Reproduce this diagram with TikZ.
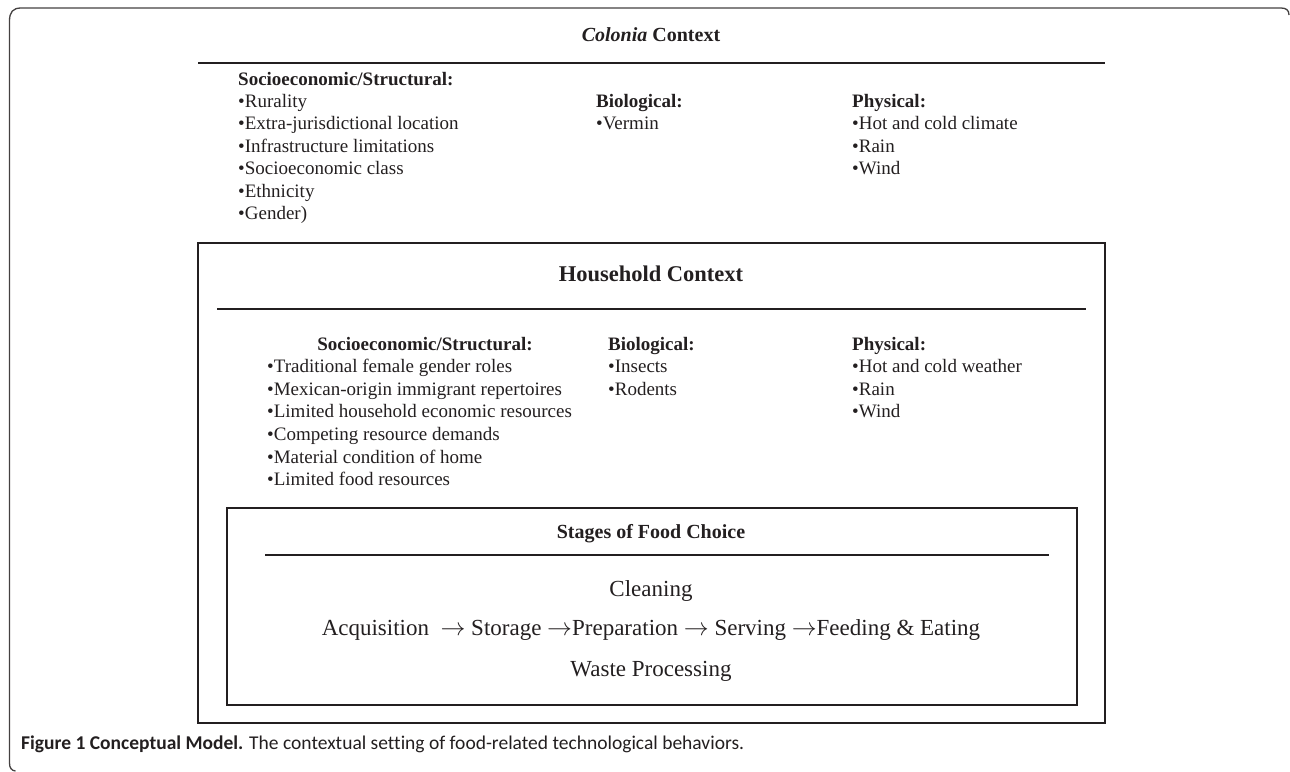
\documentclass[tikz,border=0pt]{standalone}
\usepackage{fontspec}
\setmainfont{Liberation Serif}
\newfontfamily\capfont[Ligatures=NoCommon]{Carlito}
\definecolor{ink}{HTML}{231F20}
\newcommand{\stagearrow}{\ensuremath{\rightarrow}}
\begin{document}
\begin{tikzpicture}[x=1pt,y=-1pt,
  txt/.style={inner sep=0pt, anchor=base west, text=ink, font=\fontsize{19}{22}\selectfont},
  hd/.style={inner sep=0pt, anchor=base west, text=ink, font=\fontsize{19}{22}\selectfont\bfseries},
  hdc/.style={inner sep=0pt, anchor=base, text=ink, font=\fontsize{19}{22}\selectfont\bfseries},
  ttl/.style={inner sep=0pt, anchor=base, text=ink, font=\fontsize{20}{24}\selectfont\bfseries},
  stage/.style={inner sep=0pt, anchor=base, text=ink, font=\fontsize{23}{27}\selectfont},
  boxline/.style={draw=ink, line width=2pt},
  frame/.style={draw=ink!85, line width=1.3pt}]
\useasboundingbox (0,0) rectangle (1290,771);
% outer frame
\draw[frame] (15.5,771) .. controls (11.5,770.5) and (9.5,768) .. (9.5,763)
  -- (9.5,21) .. controls (9.5,12) and (13,8) .. (21,8)
  -- (1281,8) .. controls (1286,8) and (1289,10) .. (1289,15);
% Colonia context
\node[ttl] (colt) at (651,41) {\textit{Colonia} Context};
\draw[boxline] (198,63) -- (1105,63);
\node[hd] (cs0) at (238,85) {Socioeconomic/Structural:};
\foreach \t [count=\i] in {Rurality,Extra-jurisdictional location,Infrastructure limitations,Socioeconomic class,Ethnicity,Gender)}
  \node[txt] (cs\i) at (238,85+22.4*\i) {•\t};
\node[hd] (cb0) at (596,107.4) {Biological:};
\node[txt] (cb1) at (596,129.8) {•Vermin};
\node[hd] (cp0) at (852,107.4) {Physical:};
\foreach \t [count=\i] in {Hot and cold climate,Rain,Wind}
  \node[txt] (cp\i) at (852,107.4+22.4*\i) {•\t};
% Household context
\draw[boxline] (198,243) rectangle (1105,723);
\node[ttl, font=\fontsize{22.5}{26}\selectfont\bfseries] (hht) at (651,281) {Household Context};
\draw[boxline] (217,309) -- (1086,309);
\node[hdc] (hs0) at (425,350) {Socioeconomic/Structural:};
\foreach \t [count=\i] in {Traditional female gender roles,Mexican-origin immigrant repertoires,Limited household economic resources,Competing resource demands,Material condition of home,Limited food resources}
  \node[txt] (hs\i) at (267,350+22.6*\i) {•\t};
\node[hd] (hb0) at (608,350) {Biological:};
\foreach \t [count=\i] in {Insects,Rodents}
  \node[txt] (hb\i) at (608,350+22.6*\i) {•\t};
\node[hd] (hp0) at (852,350) {Physical:};
\foreach \t [count=\i] in {Hot and cold weather,Rain,Wind}
  \node[txt] (hp\i) at (852,350+22.6*\i) {•\t};
% Stages of food choice
\draw[boxline] (227,508) rectangle (1077,705);
\node[ttl] (sft) at (651,538) {Stages of Food Choice};
\draw[boxline] (265,555) -- (1049,555);
\node[stage] (clean) at (651,596) {Cleaning};
\node[stage] (row) at (651,635) {Acquisition\ \ \stagearrow{} Storage \stagearrow{}Preparation \stagearrow{} Serving \stagearrow{}Feeding \& Eating};
\node[stage] (waste) at (651,676) {Waste Processing};
% caption
\node[inner sep=0pt, anchor=base west, text=ink, font=\capfont\fontsize{19.5}{22}\selectfont] (cap) at (21,749)
  {\textbf{Figure 1 Conceptual Model.} The contextual setting of food-related technological behaviors.};
\end{tikzpicture}
\end{document}
